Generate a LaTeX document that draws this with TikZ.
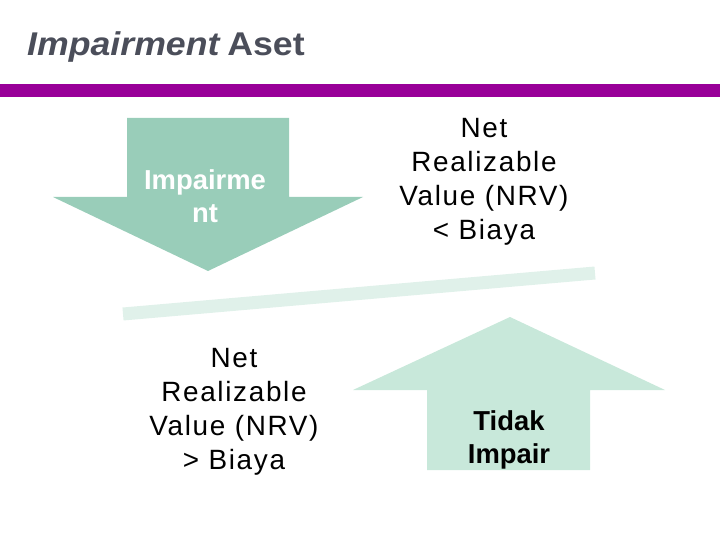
\documentclass[tikz,border=0pt]{standalone}
\usepackage{fontspec}
\setmainfont{Liberation Sans}
\newfontfamily\spacedfont[LetterSpace=6]{Liberation Sans}
\usepackage{graphicx}
\usepackage{tikz}

\definecolor{titlegray}{HTML}{4B4E5A}
\definecolor{barpurple}{HTML}{990099}
\definecolor{downgreen}{HTML}{99CDB9}
\definecolor{upgreen}{HTML}{C8E8DA}
\definecolor{barlight}{HTML}{E0F1EA}

\begin{document}
\begin{tikzpicture}[x=1bp,y=-1bp,
    every node/.style={align=center,inner sep=0pt},
    bigtext/.style={font=\spacedfont\fontsize{28}{34}\selectfont},
    arrowtext/.style={font=\bfseries\fontsize{27.5}{33.5}\selectfont}]

    \useasboundingbox (0,0) rectangle (720,540);

    %% title and purple rule
    \node[anchor=base west,text=titlegray,
      font=\bfseries\fontsize{33}{40}\selectfont] (title) at (27,56)
      {\scalebox{1.085}[1]{\textit{Impairment}\hspace{-3bp} Aset}};
    \fill[barpurple] (0,84) rectangle (720,97);

    %%%%%%%%%%%%%%%%
    % down arrow
    \fill[downgreen] (127,118) -- (289,118) -- (289,197) -- (363,197)
      -- (208,271) -- (53,197) -- (127,197) -- cycle;
    \node[arrowtext,text=white] (impair) at (205,196) {Impairme\\nt};

    %% tilted bar
    \coordinate (barL) at (123,314);
    \coordinate (barR) at (595,273);
    \draw[line width=13bp,color=barlight] (barL) -- (barR);

    %%%%%%%%%%%%%%%%
    % up arrow
    \fill[upgreen] (510,317) -- (665,390) -- (590,390) -- (590,470)
      -- (427,470) -- (427,390) -- (353,390) -- cycle;
    \node[arrowtext,text=black] (tidak) at (509,440) {Tidak\\Impair};

    %% NRV texts
    \node[bigtext] (nrvlow) at (484,182)
      {Net\\Realizable\\Value (NRV)\\{<} Biaya};
    \node[bigtext] (nrvhigh) at (234,412)
      {Net\\Realizable\\Value (NRV)\\{>} Biaya};

\end{tikzpicture}
\end{document}
